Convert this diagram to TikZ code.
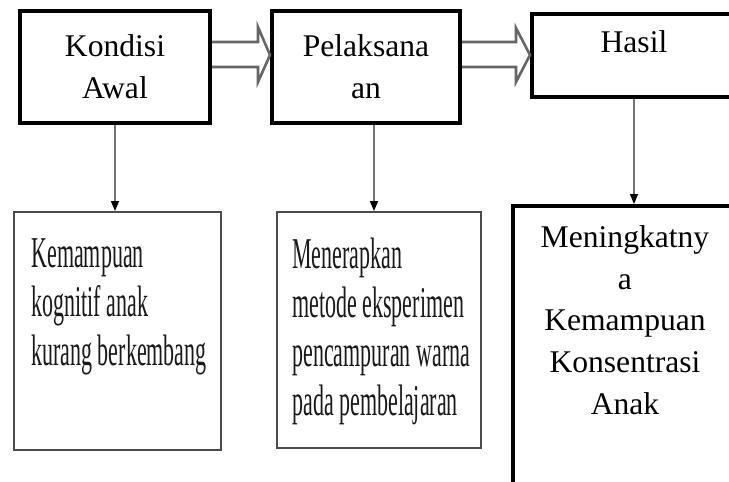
\documentclass[tikz,border=0pt]{standalone}
\usepackage{fontspec}
\setmainfont{Liberation Serif}
\newfontfamily\narrowfont[FakeStretch=0.5]{Liberation Serif}
\usetikzlibrary{arrows.meta,positioning}

\begin{document}
\begin{tikzpicture}[x=0.5pt,y=-0.5pt,
  toptext/.style={align=center,inner sep=0pt,font=\fontsize{15.8}{20.9}\selectfont},
  topbox/.style={toptext,draw=black,line width=2pt},
  lowbox/.style={draw=black!70,line width=1pt,inner sep=0pt},
  lowtext/.style={align=left,inner sep=0pt,anchor=north west,text=black!90,font=\narrowfont\fontsize{22}{24.5}\selectfont},
  conn/.style={draw=black!55,line width=0.8pt,-{Triangle[length=5pt,width=4pt,color=black]}},
  blockarr/.style={draw=black!60,line width=1.3pt,line join=miter}]

\useasboundingbox (0,0) rectangle (729,482);

%top row
\node[topbox,minimum width=95pt,minimum height=56pt] (awal) at (115,67) {Kondisi\\Awal};
\node[topbox,minimum width=94pt,minimum height=56pt] (laksana) at (366,67) {Pelaksana\\an};
\node[topbox,minimum width=102pt,minimum height=41.5pt] (hasil) at (634,55.5) {};
\node[toptext,anchor=base] (hasiltxt) at ([yshift=-20pt]hasil.north) {Hasil};

%lower row
\node[lowbox,minimum width=103.5pt,minimum height=119pt] (low1) at (117.5,331) {};
\node[lowbox,minimum width=102pt,minimum height=118pt] (low2) at (379,330) {};
\node[topbox,minimum width=122pt,minimum height=157pt] (low3) at (635,363) {};

\node[lowtext] (t1) at ([xshift=9pt,yshift=-13.5pt]low1.north west) {Kemampuan\\kognitif anak\\kurang berkembang};
\node[lowtext] (t2) at ([xshift=8pt,yshift=-13.5pt]low2.north west) {Menerapkan\\metode eksperimen\\pencampuran warna\\pada pembelajaran};
\node[toptext,anchor=north] (t3) at ([xshift=-5pt,yshift=-10.5pt]low3.north) {Meningkatny\\a\\Kemampuan\\Konsentrasi\\Anak};

%block arrows
\draw[blockarr] (awal.east |- 0,42) -- (258,42) -- (258,27) -- (laksana.west |- 0,55) -- (258,82) -- (258,67) -- (awal.east |- 0,67);
\draw[blockarr] (laksana.east |- 0,42) -- (516,42) -- (516,28) -- (hasil.west |- 0,55) -- (516,82) -- (516,67) -- (laksana.east |- 0,67);

%down arrows
\draw[conn] (awal.south) -- (awal.south |- low1.north);
\draw[conn] ([xshift=4pt]laksana.south) -- ([xshift=4pt]laksana.south |- low2.north);
\draw[conn] (hasil.south) -- (hasil.south |- low3.north);

\end{tikzpicture}
\end{document}
